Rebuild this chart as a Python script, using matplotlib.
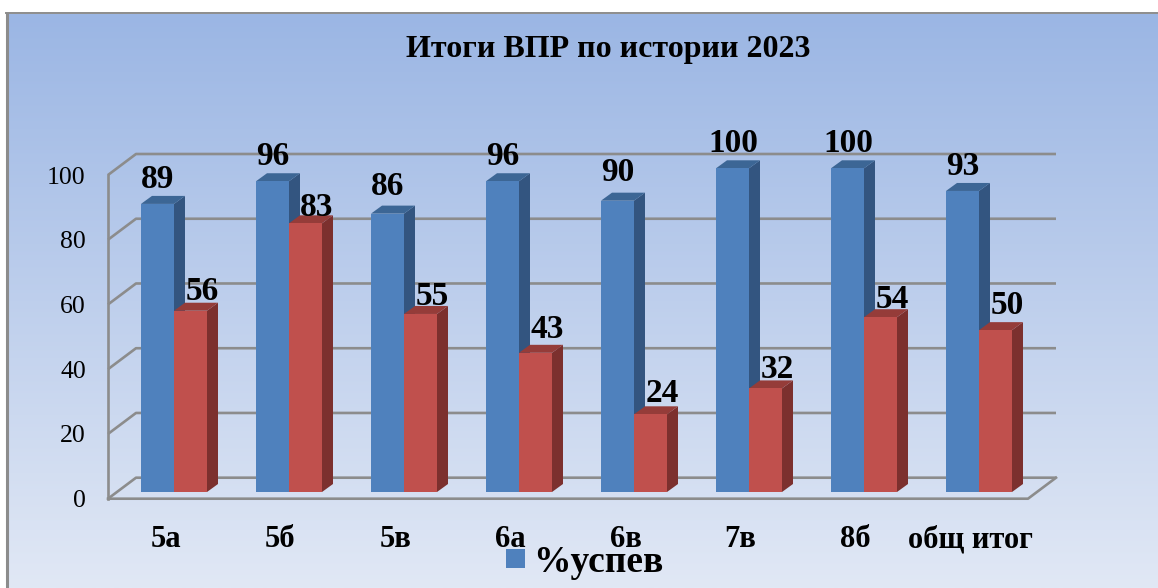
import numpy as np
import matplotlib.pyplot as plt
from matplotlib.patches import Rectangle, Polygon

plt.rcParams['font.family'] = ['Liberation Serif', 'DejaVu Serif']

# данные
classes = ['5а', '5б', '5в', '6а', '6в', '7в', '8б', 'общ итог']
uspev = [89, 96, 86, 96, 90, 100, 100, 93]
kachestvo = [56, 83, 55, 43, 24, 32, 54, 50]
y_ticks = [0, 20, 40, 60, 80, 100]
title = 'Итоги ВПР по истории 2023'
legend_name = '%успев'

W, H = 1158, 588
fig = plt.figure(figsize=(W / 100, H / 100), dpi=100, facecolor='white')

# фон с градиентом и рамка
bg = fig.add_axes([7 / W, 0, 1 - 7 / W, 1 - 14 / H])
grad = np.linspace(0, 1, 256).reshape(-1, 1)
top_c = np.array([0x9b, 0xb6, 0xe4]) / 255
bot_c = np.array([0xe1, 0xe8, 0xf5]) / 255
bg.imshow(top_c + grad[..., None] * (bot_c - top_c), aspect='auto')
bg.axis('off')
fig.add_artist(plt.Line2D([6.5 / W, 6.5 / W], [0, 1 - 13.5 / H], color='#8c8c8c', lw=2.2))
fig.add_artist(plt.Line2D([6 / W, 1], [1 - 13 / H, 1 - 13 / H], color='#8c8c8c', lw=1.4))

# основная ось: передняя плоскость псевдо-3D
ax = fig.add_axes([108 / W, (H - 498.7) / H, 920 / W, 323.7 / H])
ax.patch.set_alpha(0)
ax.set_xlim(-0.5, 7.5)
ax.set_ylim(0, 100)
for s in ax.spines.values():
    s.set_visible(False)

px_x = 8 / 920      # единиц x на пиксель
px_y = 100 / 323.7  # единиц y на пиксель

wall_dx, wall_dy = 28 * px_x, 21 * px_y
shift_x, shift_y = 8.5 * px_x, 6.7 * px_y
depth_x, depth_y = 11 * px_x, 8 * px_y
bar_w = 33 * px_x
grid_c = '#8c8c8c'

# отступы подписей над столбцами, в пикселях
gap_blue = [28, 28, 31, 28, 32, 28, 28, 28]
gap_red = [23, 19, 21, 27, 24, 22, 21, 28]

# стенки и сетка
for v in y_ticks:
    ax.plot([-0.5, -0.5 + wall_dx, 7.5 + wall_dx], [v, v + wall_dy, v + wall_dy],
            color=grid_c, lw=1.9, clip_on=False, zorder=1, solid_capstyle='butt')
ax.plot([-0.5, -0.5], [0, 100], color=grid_c, lw=1.9, clip_on=False, zorder=1)
ax.plot([-0.5, 7.5, 7.5 + wall_dx], [0, 0, wall_dy], color=grid_c, lw=1.9, clip_on=False, zorder=1)


def draw_bar(x0, val, front, side, top):
    x0 = x0 + shift_x
    b = shift_y
    t = val + shift_y
    ax.add_patch(Polygon([(x0 + bar_w, b), (x0 + bar_w + depth_x, b + depth_y),
                          (x0 + bar_w + depth_x, t + depth_y), (x0 + bar_w, t)],
                         fc=side, ec='none', clip_on=False, zorder=3))
    ax.add_patch(Polygon([(x0, t), (x0 + depth_x, t + depth_y),
                          (x0 + bar_w + depth_x, t + depth_y), (x0 + bar_w, t)],
                         fc=top, ec='none', clip_on=False, zorder=3))
    ax.add_patch(Rectangle((x0, b), bar_w, val, fc=front, ec='none', clip_on=False, zorder=3))


for i, (a, b) in enumerate(zip(uspev, kachestvo)):
    draw_bar(i - bar_w, a, '#4f81bd', '#335580', '#3c6695')
    draw_bar(i, b, '#c0504d', '#7c302e', '#953c39')
    ax.text(i - bar_w / 2 + shift_x + 0.5 * px_x, a + shift_y + gap_blue[i] * px_y, str(a), ha='center',
            va='center_baseline', fontsize=24, fontweight='bold', zorder=5)
    ax.text(i + bar_w / 2 + shift_x + 11.5 * px_x, b + shift_y + gap_red[i] * px_y, str(b), ha='center',
            va='center_baseline', fontsize=24, fontweight='bold', zorder=5)

# подписи осей
ax.set_yticks(y_ticks)
ax.set_yticklabels([str(v) for v in y_ticks], fontsize=18.5)
ax.set_xticks(range(len(classes)))
ax.set_xticklabels(classes, fontsize=22, fontweight='bold')
ax.tick_params(axis='y', length=0, pad=16)
ax.tick_params(axis='x', length=0, pad=19)

fig.text(608 / W, 1 - 49 / H, title, ha='center', va='center', fontsize=23, fontweight='bold')

# легенда
fig.add_artist(Rectangle((506 / W, 1 - 568 / H), 19 / W, 19 / H, transform=fig.transFigure,
                         fc='#4f81bd', ec='none'))
fig.text(533 / W, 1 - 562 / H, legend_name, ha='left', va='center', fontsize=27, fontweight='bold')

fig.savefig('out.png', dpi=100)
